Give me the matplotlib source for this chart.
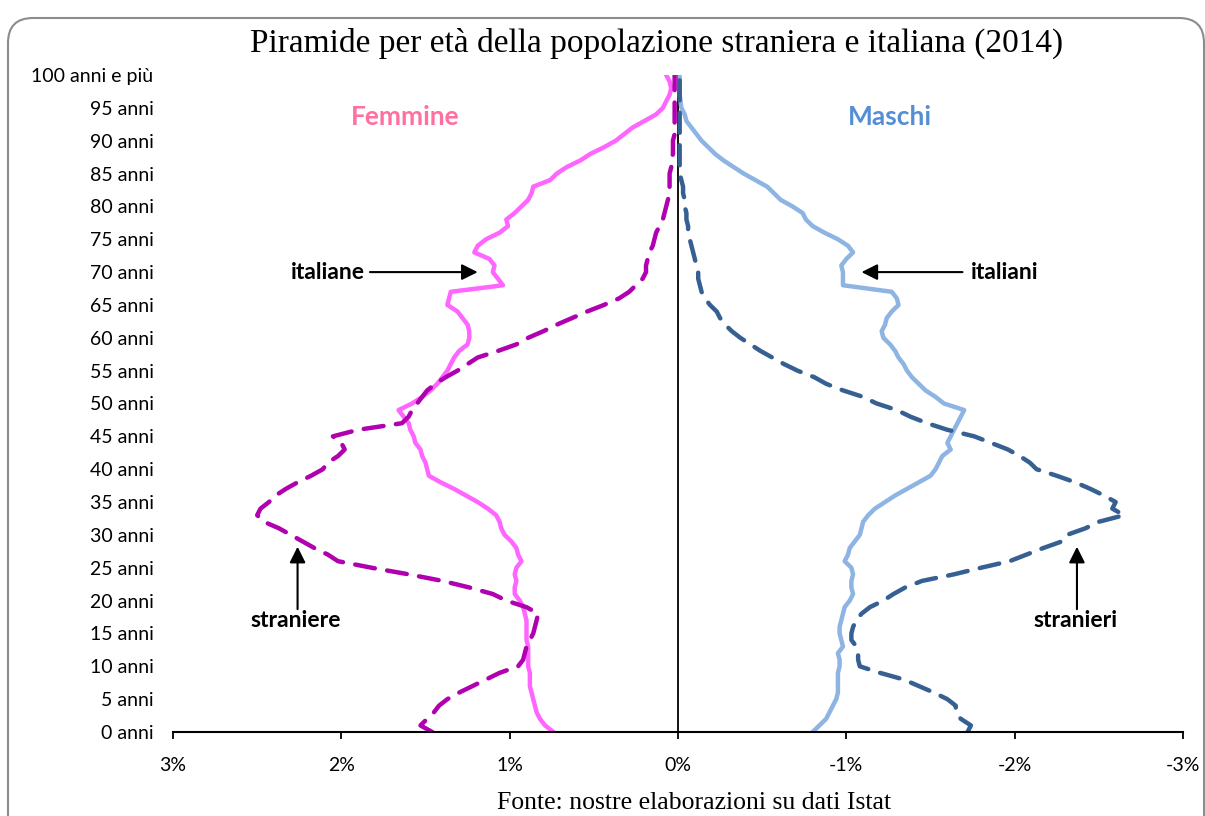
import numpy as np
import matplotlib
matplotlib.use("Agg")
import matplotlib.pyplot as plt
from matplotlib.patches import FancyBboxPatch

# ages 0..100
ages = list(range(0, 101))

# female italians (% of total), ages 0..100
italiane = [0.74, 0.79, 0.82, 0.84, 0.85, 0.86, 0.87, 0.88, 0.88, 0.88,
            0.89, 0.89, 0.89, 0.89, 0.90, 0.90, 0.90, 0.90, 0.91, 0.92,
            0.94, 0.97, 0.97, 0.96, 0.97, 0.96, 0.93, 0.95, 0.96, 0.99,
            1.03, 1.05, 1.06, 1.08, 1.13, 1.19, 1.26, 1.33, 1.41, 1.48,
            1.49, 1.50, 1.52, 1.53, 1.56, 1.57, 1.59, 1.60, 1.63, 1.66,
            1.58, 1.52, 1.47, 1.43, 1.40, 1.37, 1.35, 1.33, 1.30, 1.25,
            1.24, 1.24, 1.25, 1.28, 1.31, 1.37, 1.36, 1.35, 1.04, 1.07,
            1.10, 1.09, 1.12, 1.21, 1.19, 1.14, 1.06, 1.01, 1.02, 0.97,
            0.93, 0.89, 0.87, 0.86, 0.76, 0.72, 0.66, 0.58, 0.52, 0.44,
            0.37, 0.32, 0.27, 0.20, 0.13, 0.09, 0.07, 0.05, 0.04, 0.05,
            0.07]

# female foreigners
straniere = [1.46, 1.53, 1.49, 1.45, 1.42, 1.37, 1.30, 1.22, 1.14, 1.06,
             0.95, 0.92, 0.91, 0.90, 0.88, 0.86, 0.85, 0.84, 0.83, 0.90,
             1.02, 1.10, 1.24, 1.40, 1.60, 1.82, 2.02, 2.08, 2.16, 2.23,
             2.30, 2.37, 2.46, 2.50, 2.48, 2.43, 2.39, 2.33, 2.26, 2.18,
             2.11, 2.08, 2.02, 1.98, 2.00, 2.05, 1.90, 1.64, 1.60, 1.58,
             1.55, 1.52, 1.49, 1.44, 1.38, 1.31, 1.25, 1.19, 1.07, 0.96,
             0.89, 0.80, 0.72, 0.63, 0.54, 0.44, 0.35, 0.29, 0.25, 0.21,
             0.19, 0.19, 0.18, 0.17, 0.15, 0.14, 0.13, 0.11, 0.09, 0.08,
             0.07, 0.06, 0.05, 0.05, 0.05, 0.05, 0.04, 0.04, 0.03, 0.03,
             0.03, 0.02, 0.02, 0.02, 0.02, 0.02, 0.02, 0.02, 0.02, 0.02,
             0.02]

# male italians (negative side)
italiani = [-0.80, -0.84, -0.88, -0.90, -0.92, -0.94, -0.95, -0.95, -0.95, -0.95,
            -0.96, -0.96, -0.95, -0.98, -0.97, -0.96, -0.96, -0.97, -0.98, -0.99,
            -1.02, -1.04, -1.03, -1.03, -1.04, -1.03, -0.99, -1.01, -1.02, -1.05,
            -1.08, -1.09, -1.10, -1.13, -1.17, -1.23, -1.29, -1.36, -1.43, -1.50,
            -1.53, -1.55, -1.57, -1.62, -1.60, -1.62, -1.64, -1.66, -1.68, -1.70,
            -1.58, -1.53, -1.47, -1.43, -1.39, -1.36, -1.34, -1.31, -1.29, -1.26,
            -1.22, -1.21, -1.23, -1.24, -1.27, -1.31, -1.30, -1.27, -0.98, -0.98,
            -0.98, -0.97, -1.00, -1.04, -1.01, -0.95, -0.87, -0.80, -0.76, -0.74,
            -0.68, -0.61, -0.57, -0.53, -0.46, -0.39, -0.33, -0.27, -0.22, -0.18,
            -0.14, -0.11, -0.08, -0.05, -0.04, -0.02, -0.015, -0.01, -0.01, -0.01,
            -0.01]

# male foreigners
stranieri = [-1.72, -1.74, -1.68, -1.65, -1.65, -1.60, -1.52, -1.43, -1.34, -1.20,
             -1.08, -1.07, -1.07, -1.06, -1.03, -1.03, -1.04, -1.06, -1.09, -1.14,
             -1.22, -1.28, -1.35, -1.45, -1.64, -1.80, -1.97, -2.07, -2.17, -2.28,
             -2.31, -2.42, -2.50, -2.65, -2.58, -2.60, -2.53, -2.45, -2.36, -2.25,
             -2.13, -2.09, -2.03, -1.96, -1.86, -1.76, -1.60, -1.48, -1.38, -1.30,
             -1.18, -1.10, -0.98, -0.88, -0.81, -0.71, -0.63, -0.56, -0.49, -0.43,
             -0.37, -0.32, -0.28, -0.25, -0.23, -0.19, -0.16, -0.14, -0.13, -0.12,
             -0.12, -0.11, -0.10, -0.09, -0.08, -0.07, -0.06, -0.06, -0.05, -0.05,
             -0.04, -0.04, -0.03, -0.03, -0.02, -0.01, -0.01, -0.01, -0.01, -0.01,
             -0.01, -0.01, -0.01, -0.01, -0.01, -0.01, -0.01, -0.01, -0.01, -0.01,
             -0.01]

y_ticks = list(range(0, 101, 5))
y_labels = [f"{a} anni" for a in range(0, 100, 5)] + ["100 anni e più"]
x_ticks = [3, 2, 1, 0, -1, -2, -3]
x_labels = ["3%", "2%", "1%", "0%", "-1%", "-2%", "-3%"]

sans = ["Lato", "DejaVu Sans"]
serif = ["Liberation Serif", "DejaVu Serif"]

fig = plt.figure(figsize=(12.05, 8.16), dpi=100)

# rounded frame around the chart
frame = FancyBboxPatch((0.08, -0.3), 11.96, 8.28,
                       boxstyle="round,pad=0,rounding_size=0.25",
                       transform=fig.dpi_scale_trans,
                       facecolor="white", edgecolor="#8c8c8c", lw=1.5,
                       zorder=-10)
fig.patches.append(frame)

ax = fig.add_axes([173 / 1205, 1 - 732 / 816, 1010 / 1205, 657 / 816])
ax.patch.set_alpha(0)

dash = (0, (4.5, 2.8))
ax.plot(italiane, ages, color="#ff66ff", lw=3.2)
ax.plot(straniere, ages, color="#b000b0", lw=3.2, ls=dash, dash_capstyle="round")
ax.plot(italiani, ages, color="#8db4e2", lw=3.2)
ax.plot(stranieri, ages, color="#376092", lw=3.2, ls=dash, dash_capstyle="round")

ax.axvline(0, color="black", lw=1.3, zorder=1)

ax.set_xlim(3, -3)
ax.set_ylim(0, 100)
ax.set_xticks(x_ticks)
ax.set_xticklabels(x_labels, family=sans, fontsize=14)
ax.set_yticks(y_ticks)
ax.set_yticklabels(y_labels, family=sans, fontsize=14)
ax.tick_params(axis="y", length=0, pad=14)
ax.tick_params(axis="x", direction="out", length=5, width=1.3, pad=13)
for s in ["left", "right", "top"]:
    ax.spines[s].set_visible(False)
ax.spines["bottom"].set_linewidth(1.5)

ax.text(1.62, 93.6, "Femmine", color="#ff6f9f", fontsize=19, weight="bold",
        family=sans, ha="center", va="center")
ax.text(-1.26, 93.6, "Maschi", color="#558ed5", fontsize=19, weight="bold",
        family=sans, ha="center", va="center")

arrow = dict(arrowstyle="-|>", color="black", lw=1.5, mutation_scale=24,
             shrinkA=0, shrinkB=0)
lab = dict(fontsize=16.5, weight="bold", family=sans, va="center")
ax.annotate("", xy=(1.19, 70), xytext=(1.83, 70), arrowprops=arrow)
ax.text(1.86, 70, "italiane", ha="right", **lab)
ax.annotate("", xy=(-1.09, 70), xytext=(-1.69, 70), arrowprops=arrow)
ax.text(-1.74, 70, "italiani", ha="left", **lab)
ax.annotate("", xy=(2.26, 28.2), xytext=(2.26, 18.7), arrowprops=arrow)
ax.text(2.27, 16.9, "straniere", ha="center", **lab)
ax.annotate("", xy=(-2.37, 28.2), xytext=(-2.37, 18.7), arrowprops=arrow)
ax.text(-2.36, 16.9, "stranieri", ha="center", **lab)

fig.text(657 / 1205, 1 - 43 / 816,
         "Piramide per età della popolazione straniera e italiana (2014)",
         family=serif, fontsize=24, ha="center", va="center")
fig.text(694 / 1205, 1 - 803 / 816, "Fonte: nostre elaborazioni su dati Istat",
         family=serif, fontsize=18.5, ha="center", va="center")

fig.savefig("out.png", dpi=100)
